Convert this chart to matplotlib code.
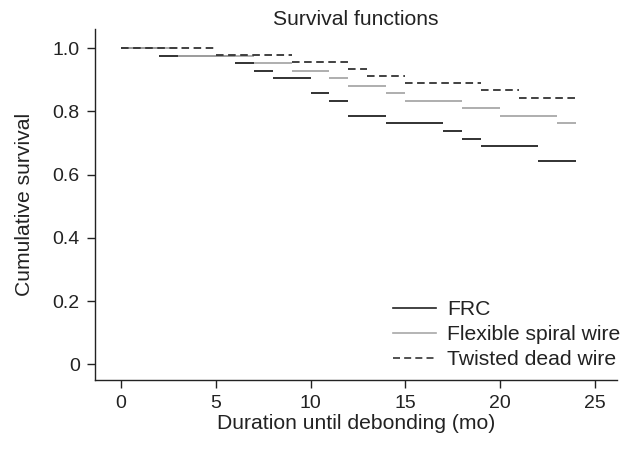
import matplotlib
matplotlib.use('Agg')
import matplotlib.pyplot as plt
from matplotlib.lines import Line2D

# Graph style settings
plt.rcParams['font.family'] = ['Liberation Sans', 'DejaVu Sans']
plt.rcParams['font.size'] = 15.2

# -------------------------------------------------------
# Kaplan-Meier steps: each step is (start, end, survival)
frc_start = [0, 2, 6, 7, 8, 10, 11, 12, 14, 17, 18, 19, 22]
frc_end = [2, 6, 7, 8, 10, 11, 12, 14, 17, 18, 19, 22, 24]
frc_surv = [1.0, 0.976, 0.952, 0.929, 0.905, 0.857, 0.833, 0.786, 0.762, 0.738, 0.714, 0.690, 0.643]

spiral_start = [0, 3, 7, 9, 11, 12, 14, 15, 18, 20, 23]
spiral_end = [3, 7, 9, 11, 12, 14, 15, 18, 20, 23, 24]
spiral_surv = [1.0, 0.976, 0.952, 0.929, 0.905, 0.881, 0.857, 0.833, 0.810, 0.786, 0.762]

twisted_start = [0, 5, 9, 12, 13, 15, 19, 21]
twisted_end = [5, 9, 12, 13, 15, 19, 21, 24]
twisted_surv = [1.0, 0.978, 0.956, 0.933, 0.911, 0.889, 0.867, 0.844]

group_names = ['FRC', 'Flexible spiral wire', 'Twisted dead wire']
x_ticks = [0, 5, 10, 15, 20, 25]
y_ticks = [0, 0.2, 0.4, 0.6, 0.8, 1.0]
y_tick_labels = ['0', '0.2', '0.4', '0.6', '0.8', '1.0']

# -------------------------------------------------------
fig = plt.figure(figsize=(6.22, 4.5), dpi=100)
ax = fig.add_axes([0.1527, 0.1556, 0.8393, 0.78])

ink = '#222222'
gray = '#a8a8a8'
dash = (0, (4.2, 2.5))
ax.hlines(frc_surv, frc_start, frc_end, color=ink, linewidth=1.3, linestyle='solid')
ax.hlines(spiral_surv, spiral_start, spiral_end, color=gray, linewidth=1.3, linestyle='solid')
ax.hlines(twisted_surv, twisted_start, twisted_end, color='#333333', linewidth=1.3, linestyle=dash)

ax.set_xlim(-1.37, 26.17)
ax.set_ylim(-0.0497, 1.061)
ax.set_xticks(x_ticks)
ax.set_yticks(y_ticks)
ax.set_yticklabels(y_tick_labels)

for side in ['top', 'right']:
    ax.spines[side].set_visible(False)
for side in ['left', 'bottom']:
    ax.spines[side].set_color(ink)
    ax.spines[side].set_linewidth(1.0)
ax.tick_params(direction='out', length=6, width=1.0, colors=ink, labelcolor=ink,
               labelsize=14, pad=5)
ax.tick_params(axis='x', pad=4.5)

ax.set_title('Survival functions', color=ink, fontsize=15.2, pad=-1)
ax.set_xlabel('Duration until debonding (mo)', color=ink, labelpad=2)
ax.set_ylabel('Cumulative survival', color=ink, labelpad=13)

# Legend with line samples only
handles = [Line2D([], [], color=ink, linewidth=1.2),
           Line2D([], [], color=gray, linewidth=1.2),
           Line2D([], [], color='#333333', linewidth=1.2, linestyle=dash)]
ax.legend(handles, group_names, loc='lower right', bbox_to_anchor=(1.006, 0.031),
          frameon=False, handlelength=2.05, handletextpad=0.5, labelspacing=0.28,
          borderaxespad=0, borderpad=0, labelcolor=ink)

fig.savefig('out.png', dpi=100)
